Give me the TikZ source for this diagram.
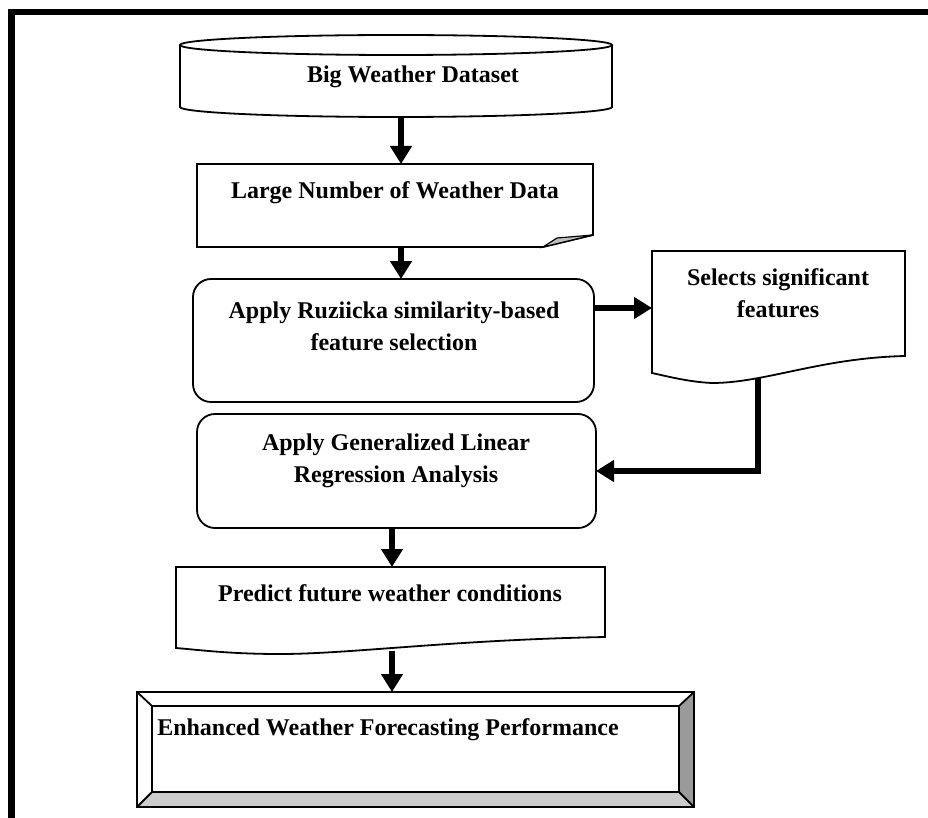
\documentclass[tikz,border=0pt]{standalone}
\usepackage{fontspec}
\setmainfont{Liberation Serif}
\usetikzlibrary{arrows.meta,calc}
\definecolor{bevlight}{HTML}{CCCCCC}
\definecolor{bevdark}{HTML}{9A9A9A}
\definecolor{foldgray}{HTML}{BFBFBF}
\begin{document}
\begin{tikzpicture}[x=1pt,y=-1pt,
  area/.style={draw=none,inner sep=0pt,outer sep=0pt,rectangle},
  outline/.style={draw=black,line width=1.8pt,line join=miter},
  roundbox/.style={draw=black,line width=1.8pt,rounded corners=18pt,inner sep=0pt,outer sep=0pt},
  lbl/.style={font=\bfseries\fontsize{24}{32}\selectfont,align=center,inner sep=0pt},
  flow/.style={line width=6pt,line join=miter,-{Triangle[width=21pt,length=18pt]}}]
\useasboundingbox (0,0) rectangle (928,818);
% page frame
\draw[line width=6.5pt,line join=miter] (11.5,818) -- (11.5,12) -- (928,12);

% ---- cylinder: Big Weather Dataset
\node[area,minimum width=432pt,minimum height=82pt] (cyl) at (396,76) {};
\draw[outline] (180,45) -- (180,107) arc[start angle=180,end angle=360,x radius=216pt,y radius=10pt] -- (612,45);
\draw[outline] (396,45) ellipse [x radius=216pt,y radius=10pt];
\node[lbl] (t1) at (413,77) {Big Weather Dataset};

% ---- folded-corner document
\node[area,minimum width=396pt,minimum height=83pt] (doc2) at (395,205.5) {};
\draw[outline] (197,164) -- (593,164) -- (593,235) -- (543,247) -- (197,247) -- cycle;
\draw[outline,line width=1.2pt,fill=foldgray] (543,247) -- (593,235) -- (557,238) -- cycle;
\node[lbl] (t2) at (395,193) {Large Number of Weather Data};

% ---- rounded box: Ruziicka
\node[roundbox,minimum width=401pt,minimum height=123pt] (rect3) at (393.5,340.5) {};
\node[lbl] (t3) at (394,326) {Apply Ruziicka similarity-based\\feature selection};

% ---- wavy document: selects significant features
\node[area,minimum width=253pt,minimum height=132pt] (doc4) at (778.5,317) {};
\draw[outline] (652,251) -- (905,251) -- (905,356)
  .. controls (820,358) and (765,383) .. (712,383)
  .. controls (690,382) and (670,377) .. (652,373) -- cycle;
\node[lbl] (t4) at (778,293.5) {Selects significant\\features};

% ---- rounded box: GLR
\node[roundbox,minimum width=399pt,minimum height=114pt] (rect5) at (396.5,471) {};
\node[lbl] (t5) at (396,461) {Apply Generalized Linear\\Regression Analysis};

% ---- wavy document: predict
\node[area,minimum width=429pt,minimum height=87pt] (doc6) at (390.5,610.5) {};
\draw[outline] (176,567) -- (605,567) -- (605,637)
  .. controls (450,640) and (350,654) .. (280,654)
  .. controls (230,654) and (200,650) .. (176,648) -- cycle;
\node[lbl] (t6) at (390,593) {Predict future weather conditions};

% ---- bevel box
\node[area,minimum width=557pt,minimum height=115pt] (bev) at (415.5,749.5) {};
\fill[white] (137,692) -- (694,692) -- (679,706) -- (152,706) -- cycle;
\fill[white] (137,692) -- (152,706) -- (152,792) -- (137,807) -- cycle;
\fill[bevlight] (137,807) -- (694,807) -- (679,792) -- (152,792) -- cycle;
\fill[bevdark] (694,692) -- (694,807) -- (679,792) -- (679,706) -- cycle;
\draw[outline] (137,692) rectangle (694,807);
\draw[outline] (152,706) rectangle (679,792);
\draw[outline] (137,692) -- (152,706) (694,692) -- (679,706)
  (137,807) -- (152,792) (694,807) -- (679,792);
\node[lbl] (t7) at (388,730) {Enhanced Weather Forecasting Performance};

% ---- connectors
\coordinate (w4) at (758,378);
\coordinate (w6) at (392,651);
\draw[flow] ([xshift=5pt]cyl.south) -- ([xshift=5pt]cyl.south |- doc2.north);
\draw[flow] ([xshift=6pt]doc2.south) -- ([xshift=6pt]doc2.south |- rect3.north);
\draw[flow] ([yshift=32.5pt]rect3.east) -- ([yshift=32.5pt]rect3.east -| doc4.west);
\draw[flow] (w4) |- (rect5.east);
\draw[flow] ([xshift=-4.5pt]rect5.south) -- ([xshift=-4.5pt]rect5.south |- doc6.north);
\draw[flow] (w6) -- (w6 |- bev.north);
\end{tikzpicture}
\end{document}
